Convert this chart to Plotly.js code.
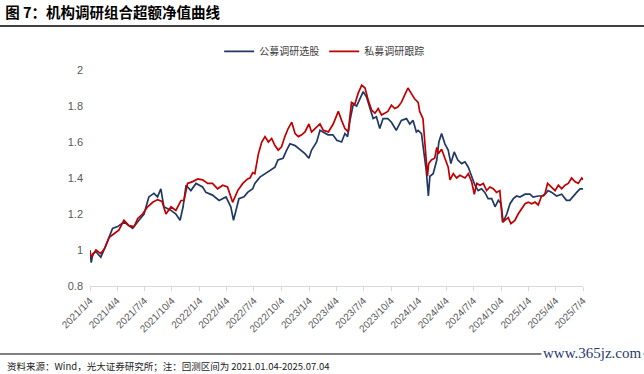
<!DOCTYPE html>
<html>
<head>
<meta charset="utf-8">
<script src="https://cdn.plot.ly/plotly-3.0.1.min.js"></script>
<style>
html,body{margin:0;padding:0;background:#fff;}
#chart{width:644px;height:374px;}
</style>
</head>
<body>
<div id="chart"></div>
<script>
// ---- Data ----
const seriesNames = ["公募调研选股", "私募调研跟踪"];

const publicDates = [
"2021-01-04","2021-01-08","2021-01-14","2021-01-24","2021-02-09","2021-02-26","2021-03-20","2021-04-06","2021-04-27","2021-05-26",
"2021-06-16","2021-07-03","2021-07-19","2021-08-05","2021-08-17","2021-08-28","2021-09-07","2021-10-01","2021-10-17","2021-10-31",
"2021-11-10","2021-11-20","2021-12-06","2021-12-23","2022-01-14","2022-01-25","2022-02-16","2022-03-10","2022-04-02","2022-04-18",
"2022-04-27","2022-05-15","2022-06-01","2022-06-13","2022-06-30","2022-07-07","2022-07-24","2022-08-10","2022-08-26","2022-09-12",
"2022-09-22","2022-10-09","2022-10-21","2022-11-01","2022-11-18","2022-12-04","2022-12-21","2023-01-03","2023-01-12","2023-01-29",
"2023-02-09","2023-02-19","2023-03-08","2023-03-24","2023-04-06","2023-04-22","2023-05-03","2023-05-12","2023-05-20","2023-05-31",
"2023-06-11","2023-06-22","2023-07-03","2023-07-14","2023-07-25","2023-08-05","2023-08-16","2023-08-27","2023-09-07","2023-09-23",
"2023-10-05","2023-10-21","2023-11-07","2023-11-24","2023-12-05","2023-12-16","2023-12-27","2024-01-02","2024-01-13","2024-01-21",
"2024-01-29","2024-02-05","2024-02-10","2024-02-21","2024-03-04","2024-03-11","2024-03-20","2024-03-31","2024-04-11","2024-04-20",
"2024-05-01","2024-05-13","2024-05-26","2024-06-06","2024-06-17","2024-06-28","2024-07-09","2024-07-20","2024-07-31","2024-08-11",
"2024-08-22","2024-09-03","2024-09-14","2024-09-25","2024-10-04","2024-10-11","2024-10-23","2024-11-03","2024-11-14","2024-11-25",
"2024-12-06","2024-12-23","2025-01-08","2025-01-19","2025-02-05","2025-02-22","2025-03-10","2025-03-22","2025-04-07","2025-04-24",
"2025-05-10","2025-05-21","2025-06-01","2025-06-13","2025-06-24","2025-07-04"
];
const publicValues = [
1.00,0.93,0.98,0.99,0.96,1.025,1.12,1.13,1.155,1.12,
1.165,1.20,1.295,1.315,1.295,1.34,1.24,1.22,1.20,1.165,
1.24,1.36,1.33,1.37,1.35,1.32,1.305,1.275,1.295,1.24,
1.165,1.285,1.295,1.32,1.34,1.37,1.405,1.424,1.44,1.46,
1.50,1.51,1.555,1.59,1.58,1.56,1.535,1.51,1.555,1.60,
1.665,1.656,1.64,1.64,1.61,1.60,1.647,1.63,1.72,1.81,
1.80,1.84,1.88,1.85,1.79,1.73,1.74,1.675,1.73,1.73,
1.71,1.665,1.72,1.73,1.70,1.72,1.656,1.665,1.647,1.555,
1.44,1.30,1.41,1.424,1.50,1.60,1.647,1.59,1.555,1.48,
1.545,1.50,1.48,1.49,1.46,1.41,1.36,1.33,1.34,1.32,
1.285,1.285,1.24,1.276,1.257,1.155,1.20,1.257,1.285,1.30,
1.294,1.31,1.31,1.294,1.30,1.30,1.33,1.32,1.30,1.31,
1.276,1.276,1.30,1.32,1.34,1.34
];

const privateDates = [
"2021-01-04","2021-01-08","2021-01-24","2021-02-09","2021-02-22","2021-03-09","2021-03-25","2021-04-10","2021-04-27","2021-05-14",
"2021-05-31","2021-06-12","2021-06-28","2021-07-15","2021-08-01","2021-08-17","2021-09-01","2021-09-14","2021-10-01","2021-10-17",
"2021-11-03","2021-11-13","2021-11-25","2021-12-12","2021-12-29","2022-01-14","2022-01-31","2022-02-16","2022-03-05","2022-03-22",
"2022-04-07","2022-04-24","2022-05-11","2022-05-28","2022-06-13","2022-06-21","2022-06-30","2022-07-07","2022-07-19","2022-07-30",
"2022-08-10","2022-08-21","2022-09-01","2022-09-12","2022-09-23","2022-10-04","2022-10-15","2022-10-26","2022-11-07","2022-11-18",
"2022-11-29","2022-12-10","2022-12-21","2023-01-03","2023-01-12","2023-01-23","2023-02-09","2023-02-20","2023-03-09","2023-03-25",
"2023-04-11","2023-04-22","2023-05-03","2023-05-14","2023-05-25","2023-06-05","2023-06-16","2023-06-28","2023-07-09","2023-07-20",
"2023-07-31","2023-08-11","2023-08-22","2023-09-02","2023-09-13","2023-09-23","2023-10-05","2023-10-16","2023-10-27","2023-11-07",
"2023-11-18","2023-11-29","2023-12-10","2023-12-21","2024-01-02","2024-01-07","2024-01-18","2024-01-26","2024-02-02","2024-02-06",
"2024-02-15","2024-02-26","2024-03-04","2024-03-09","2024-03-20","2024-03-31","2024-04-11","2024-04-17","2024-04-28","2024-05-09",
"2024-05-20","2024-06-06","2024-06-17","2024-06-28","2024-07-07","2024-07-15","2024-07-26","2024-08-06","2024-08-17","2024-08-28",
"2024-09-08","2024-09-19","2024-09-30","2024-10-09","2024-10-17","2024-10-28","2024-11-06","2024-11-19","2024-11-30","2024-12-12",
"2024-12-23","2025-01-03","2025-01-14","2025-01-25","2025-02-05","2025-02-16","2025-02-27","2025-03-08","2025-03-22","2025-04-02",
"2025-04-13","2025-04-24","2025-05-05","2025-05-16","2025-05-27","2025-06-07","2025-06-18","2025-06-30","2025-07-04"
];
const privateValues = [
0.99,0.96,1.00,0.98,1.01,1.07,1.09,1.11,1.165,1.135,
1.13,1.175,1.20,1.24,1.265,1.28,1.27,1.20,1.24,1.22,
1.275,1.275,1.37,1.38,1.395,1.39,1.37,1.37,1.34,1.36,
1.35,1.265,1.33,1.37,1.395,1.40,1.43,1.424,1.535,1.60,
1.63,1.60,1.62,1.58,1.555,1.573,1.63,1.675,1.71,1.647,
1.63,1.64,1.656,1.70,1.656,1.675,1.70,1.665,1.656,1.70,
1.77,1.72,1.675,1.656,1.82,1.81,1.87,1.916,1.90,1.83,
1.777,1.76,1.786,1.75,1.76,1.77,1.805,1.786,1.796,1.82,
1.86,1.90,1.87,1.84,1.82,1.77,1.73,1.555,1.41,1.48,
1.50,1.51,1.57,1.535,1.56,1.51,1.46,1.39,1.424,1.40,
1.415,1.40,1.424,1.38,1.31,1.37,1.36,1.37,1.33,1.35,
1.34,1.32,1.33,1.155,1.164,1.18,1.146,1.164,1.20,1.23,
1.257,1.266,1.257,1.266,1.25,1.30,1.31,1.37,1.35,1.33,
1.36,1.34,1.36,1.37,1.40,1.38,1.37,1.40,1.39
];

const xTickDates = ["2021-01-04","2021-04-04","2021-07-04","2021-10-04","2022-01-04","2022-04-04","2022-07-04","2022-10-04",
"2023-01-04","2023-04-04","2023-07-04","2023-10-04","2024-01-04","2024-04-04","2024-07-04","2024-10-04",
"2025-01-04","2025-04-04","2025-07-04"];
const xTickLabels = ["2021/1/4","2021/4/4","2021/7/4","2021/10/4","2022/1/4","2022/4/4","2022/7/4","2022/10/4",
"2023/1/4","2023/4/4","2023/7/4","2023/10/4","2024/1/4","2024/4/4","2024/7/4","2024/10/4",
"2025/1/4","2025/4/4","2025/7/4"];
const yTickVals = [0.8,1.0,1.2,1.4,1.6,1.8,2.0];
const yTickLabels = ["0.8","1","1.2","1.4","1.6","1.8","2"];

const titleText = "图 7：机构调研组合超额净值曲线";
const sourceText = "资料来源：Wind，光大证券研究所；注：回测区间为 2021.01.04-2025.07.04";
const watermarkText = "www.365jz.com";

// ---- Chart ----
const CJK = '"Noto Sans CJK SC", "Noto Sans", sans-serif';
const traces = [
  {x: publicDates, y: publicValues, type: 'scatter', mode: 'lines', name: seriesNames[0],
   line: {color: '#1F3864', width: 1.7}},
  {x: privateDates, y: privateValues, type: 'scatter', mode: 'lines', name: seriesNames[1],
   line: {color: '#C00000', width: 1.7}}
];

const layout = {
  width: 644, height: 374,
  margin: {l: 90, r: 61, t: 70, b: 88},
  paper_bgcolor: '#fff', plot_bgcolor: '#fff',
  font: {family: CJK, color: '#595959'},
  title: {text: '<b>' + titleText + '</b>', x: 0.008, xanchor: 'left', xref: 'container',
          y: 0.965, yanchor: 'middle', yref: 'container',
          font: {family: CJK, size: 14.5, color: '#000'}},
  showlegend: true,
  legend: {orientation: 'h', x: 0.262, xanchor: 'left', y: 1.086, yanchor: 'middle',
           font: {family: CJK, size: 10, color: '#404040'}, bgcolor: 'rgba(0,0,0,0)'},
  xaxis: {type: 'date', range: ['2021-01-04', '2025-07-04'],
          tickmode: 'array', tickvals: xTickDates, ticktext: xTickLabels, tickangle: -45,
          tickfont: {family: '"Liberation Sans", sans-serif', size: 10, color: '#595959'},
          showgrid: false, zeroline: false, showline: true, linecolor: '#D9D9D9', linewidth: 1,
          ticks: 'outside', ticklen: 4, tickcolor: '#D9D9D9', fixedrange: true},
  yaxis: {range: [0.8, 2.0], tickmode: 'array', tickvals: yTickVals, ticktext: yTickLabels,
          tickfont: {family: '"Liberation Sans", sans-serif', size: 11, color: '#595959'},
          showgrid: false, zeroline: false, showline: false, ticks: '', ticklabelstandoff: 6,
          fixedrange: true},
  shapes: [
    {type: 'line', xref: 'paper', yref: 'paper', x0: -0.19, x1: 1.13, y0: 1.2037, y1: 1.2037,
     line: {color: '#000', width: 1.5}},
    {type: 'line', xref: 'paper', yref: 'paper', x0: -0.19, x1: 1.13, y0: -0.3148, y1: -0.3148,
     line: {color: '#000', width: 1}}
  ],
  annotations: [
    {text: sourceText, xref: 'paper', yref: 'paper', x: (5 - 90) / 493, xanchor: 'left',
     y: (286 - 366) / 216, yanchor: 'middle', showarrow: false,
     font: {family: CJK, size: 9.5, color: '#222'}},
    {text: watermarkText, xref: 'paper', yref: 'paper', x: (592 - 90) / 493, xanchor: 'center',
     y: (286 - 353) / 216, yanchor: 'middle', showarrow: false, bgcolor: '#fff',
     font: {family: '"Liberation Serif", serif', size: 15, color: '#1F3A6E'}}
  ]
};

Plotly.newPlot('chart', traces, layout, {displayModeBar: false, staticPlot: true});
</script>
</body>
</html>
